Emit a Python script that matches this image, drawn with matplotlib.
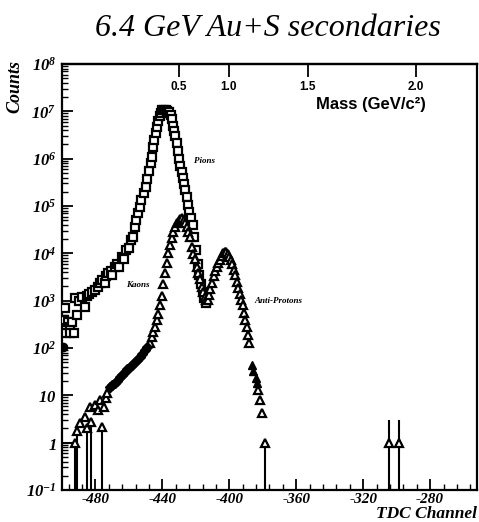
import matplotlib
matplotlib.use("Agg")
import matplotlib.pyplot as plt
import numpy as np
from matplotlib.ticker import FixedLocator, MultipleLocator, LogLocator, NullFormatter

plt.rcParams['mathtext.fontset'] = 'custom'
plt.rcParams['mathtext.rm'] = 'Liberation Serif:italic:bold'
plt.rcParams['mathtext.it'] = 'Liberation Serif:italic:bold'
plt.rcParams['mathtext.bf'] = 'Liberation Serif:italic:bold'
plt.rcParams['mathtext.default'] = 'rm'

# ---------------- data ----------------
pion_tdc = [-499.0, -498.0, -497.5, -496.5, -495.5, -495.0, -494.0, -493.0, -492.0, -491.0,
            -490.0, -488.0, -486.0, -485.0, -484.0, -482.0, -480.0, -478.5, -477.0, -476.0,
            -474.5, -473.5, -472.5, -471.0, -470.0, -468.5, -467.0, -466.0, -464.0, -463.0,
            -461.5, -460.0, -458.5, -457.5, -456.5, -455.5, -454.5, -453.5, -452.5, -451.0,
            -450.0, -449.0, -448.0, -447.0, -446.3, -445.7, -444.8, -444.0, -443.3, -442.5,
            -441.7, -440.8, -440.0, -439.0, -438.0, -437.0, -436.0, -435.0, -434.3, -433.7,
            -433.0, -432.3, -431.5, -430.8, -430.0, -429.2, -428.5, -427.8, -427.0, -426.3,
            -425.5, -424.8, -424.0, -423.0, -422.0, -421.0, -420.0, -419.0, -418.0, -417.0,
            -416.0, -415.0, -414.0]
pion_counts = [390, 690, 205, 355, 275, 205, 355, 205, 1120, 490,
               1000, 1200, 725, 1260, 1410, 1510, 1660, 1950, 2400, 2690,
               2340, 3310, 3800, 4170, 3550, 5130, 6030, 5250, 8320, 7590,
               11750, 13200, 19050, 22400, 35500, 50100, 70800, 95500, 1.32e5, 1.9e5,
               2.51e5, 3.8e5, 5.62e5, 7.94e5, 1.07e6, 1.78e6, 2.51e6, 3.55e6, 4.68e6, 6.31e6,
               7.94e6, 9.33e6, 1.05e7, 1.07e7, 1.07e7, 1.02e7, 9.55e6, 8.3e6, 6.9e6, 5.0e6,
               3.8e6, 2.95e6, 2.14e6, 1.45e6, 1.0e6, 7.1e5, 5.25e5, 3.9e5, 2.9e5, 2.14e5,
               1.58e5, 1.05e5, 7.6e4, 5.6e4, 4.0e4, 2.24e4, 1.2e4, 6.0e3, 3.55e3, 2.24e3,
               1.5e3, 1.12e3, 890]

pion_edge_tdc = [-499.6]
pion_edge_counts = [105]

kp_tdc = [-447.5, -446.3, -445.7, -444.5, -443.3, -442.5, -441.5, -440.5, -439.5, -438.5,
          -437.5, -436.5, -435.5, -434.5, -433.5, -432.5, -431.5, -430.3, -429.2, -428.2,
          -427.2, -426.3, -425.4, -424.5, -423.6, -422.4, -421.5, -420.6, -419.4, -418.5,
          -417.6, -416.4, -415.5, -414.6, -413.8, -413.0, -412.2, -411.3, -410.4, -409.3,
          -408.4, -407.5, -406.6, -405.7, -404.5, -403.6, -402.7, -401.8, -400.9, -400.0,
          -399.1, -398.2, -397.3, -396.5, -395.5, -394.6, -393.7, -392.8, -392.0, -391.3,
          -390.5, -389.7, -388.9, -388.0, -382.6, -381.8, -380.6]
kp_counts = [126, 170, 214, 275, 390, 525, 795, 1260, 2240, 3800,
             6300, 1.0e4, 1.51e4, 2.09e4, 2.82e4, 3.55e4, 4.27e4, 4.9e4, 5.37e4, 5.5e4,
             5.13e4, 4.47e4, 3.55e4, 2.82e4, 2.19e4, 1.35e4, 9.8e3, 7.6e3, 5.1e3, 3.8e3,
             2.9e3, 1.95e3, 1.51e3, 1.2e3, 1.05e3, 1.05e3, 1.32e3, 1.78e3, 2.34e3, 3.3e3,
             4.27e3, 5.25e3, 6.3e3, 7.4e3, 8.9e3, 1.0e4, 1.07e4, 1.05e4, 9.5e3, 8.5e3,
             7.2e3, 5.9e3, 4.5e3, 3.5e3, 2.5e3, 1.86e3, 1.41e3, 1.05e3, 795, 560,
             400, 280, 186, 126, 12.9, 7.9, 4.2]

filled_tdc = [-471.3, -470.0, -468.4, -467.0, -465.4, -464.0, -462.4, -461.0, -459.4, -458.0,
              -456.4, -455.0, -453.4, -452.0, -450.4, -449.0]
filled_counts = [14.8, 16.6, 18.2, 20, 24, 27, 31, 35.5, 39, 43.6,
                 50, 56, 64.6, 74, 89, 105]

filled_tri_tdc = [-386.5, -385.8, -384.2, -383.6]
filled_tri_counts = [44, 32, 23, 18]

low_tdc = [-489.5, -486.5, -483.5, -480.0, -478.5, -477.3, -475.0, -474.0, -473.0]
low_counts = [2.6, 3.5, 5.6, 6.3, 5.0, 7.9, 5.6, 8.9, 11.2]

bar_tdc = [-492.5, -491.0, -485.0, -482.5, -476.0, -378.8, -304.8, -298.8]
bar_counts = [1.0, 1.8, 2.0, 2.8, 2.1, 1.0, 1.0, 1.0]
bar_up = [0.0, 0.0, 0.0, 0.0, 0.0, 0.0, 2.0, 2.0]
hbar_left = [7.5, 0, 0, 0, 0, 0, 0, 0]

x_ticks = [-480, -440, -400, -360, -320, -280]
x_ticklabels = ['-480', '-440', '-400', '-360', '-320', '-280']
y_ticks = [1e-1, 1, 10, 1e2, 1e3, 1e4, 1e5, 1e6, 1e7, 1e8]
y_ticklabels = [r'$10^{-1}$', r'$1$', r'$10$', r'$10^{2}$', r'$10^{3}$', r'$10^{4}$',
                r'$10^{5}$', r'$10^{6}$', r'$10^{7}$', r'$10^{8}$']
mass_tick_tdc = [-430, -400.5, -353, -288.5]
mass_ticklabels = ['0.5', '1.0', '1.5', '2.0']

# ---------------- figure ----------------
fig = plt.figure(figsize=(4.79, 5.22), dpi=100)
ax = fig.add_axes([62/479, 32/522, 415/479, 426/522])
ax.set_yscale('log')
ax.set_xlim(-500, -252)
ax.set_ylim(1e-1, 1e8)

mk = dict(linestyle='none', color='black', markerfacecolor='white', markeredgecolor='black')
ax.plot(pion_tdc, pion_counts, marker='s', markersize=5.5, markeredgewidth=1.6, **mk, zorder=3)
ax.plot(kp_tdc, kp_counts, marker='^', markersize=6, markeredgewidth=1.6, **mk, zorder=4)
ax.plot(low_tdc, low_counts, marker='^', markersize=6, markeredgewidth=1.6, **mk, zorder=4)
ax.plot(filled_tdc, filled_counts, marker='D', markersize=5, linestyle='none', color='black', zorder=4)
ax.plot(filled_tri_tdc, filled_tri_counts, marker='^', markersize=6, linestyle='none', color='black', zorder=4)
ax.plot(pion_edge_tdc, pion_edge_counts, marker='o', markersize=6, linestyle='none', color='black', zorder=4)

bc = np.array(bar_counts)
yerr = [bc - 0.1, np.array(bar_up)]
xerr = [np.array(hbar_left), np.zeros(len(bar_tdc))]
ax.errorbar(bar_tdc, bar_counts, yerr=yerr, xerr=xerr, fmt='^', markersize=6,
            markerfacecolor='white', markeredgecolor='black', markeredgewidth=1.6,
            ecolor='black', elinewidth=1.5, capsize=0, zorder=4)

# axes styling
for s in ax.spines.values():
    s.set_linewidth(1.6)

ax.xaxis.set_major_locator(FixedLocator(x_ticks))
ax.xaxis.set_minor_locator(MultipleLocator(8))
ax.set_xticklabels(x_ticklabels)
ax.yaxis.set_major_locator(FixedLocator(y_ticks))
ax.set_yticklabels(y_ticklabels)
ax.yaxis.set_minor_locator(LogLocator(base=10, subs=np.arange(2, 10), numticks=20))
ax.yaxis.set_minor_formatter(NullFormatter())

ax.tick_params(axis='both', which='major', direction='in', length=8, width=1.3,
               top=False, right=False)
ax.tick_params(axis='both', which='minor', direction='in', length=4, width=1.0,
               top=False, right=False)
ax.tick_params(axis='y', which='major', pad=4, labelsize=12)
ax.tick_params(axis='x', which='major', pad=2, labelsize=11)
for lab in ax.get_xticklabels():
    lab.set_fontfamily('Liberation Serif')
    lab.set_fontstyle('italic')
    lab.set_fontweight('bold')

# top mass axis
sec = ax.secondary_xaxis('top')
sec.set_xticks(mass_tick_tdc)
sec.set_xticklabels(mass_ticklabels)
sec.tick_params(direction='in', length=9, width=1.3, pad=-21, labelsize=8.5)
for lab in sec.get_xticklabels():
    lab.set_fontfamily('Liberation Sans')
    lab.set_fontweight('bold')
sec.spines['top'].set_linewidth(1.6)

ax.text(0.745, 0.905, 'Mass (GeV/c²)', transform=ax.transAxes, ha='center', va='center',
        fontsize=12, family='Liberation Sans', weight='bold')

# curve labels
lab_kw = dict(fontsize=6.5, family='Liberation Serif', style='italic', weight='bold',
              ha='left', va='center')
ax.text(-421, 9.0e5, 'Pions', **lab_kw)
ax.text(-461.5, 2.1e3, 'Kaons', **lab_kw)
ax.text(-385, 1.0e3, 'Anti-Protons', **lab_kw)

# title and axis labels
fig.text(0.56, 0.945, '6.4 GeV Au+S secondaries', ha='center', va='center',
         fontsize=23, family='Liberation Serif', style='italic')
fig.text(0.032, 0.835, 'Counts', rotation=90, ha='center', va='center',
         fontsize=13, family='Liberation Serif', style='italic', weight='bold')
fig.text(0.995, 0.0, 'TDC Channel', ha='right', va='bottom',
         fontsize=12.5, family='Liberation Serif', style='italic', weight='bold')

fig.savefig('out.png', dpi=100)
